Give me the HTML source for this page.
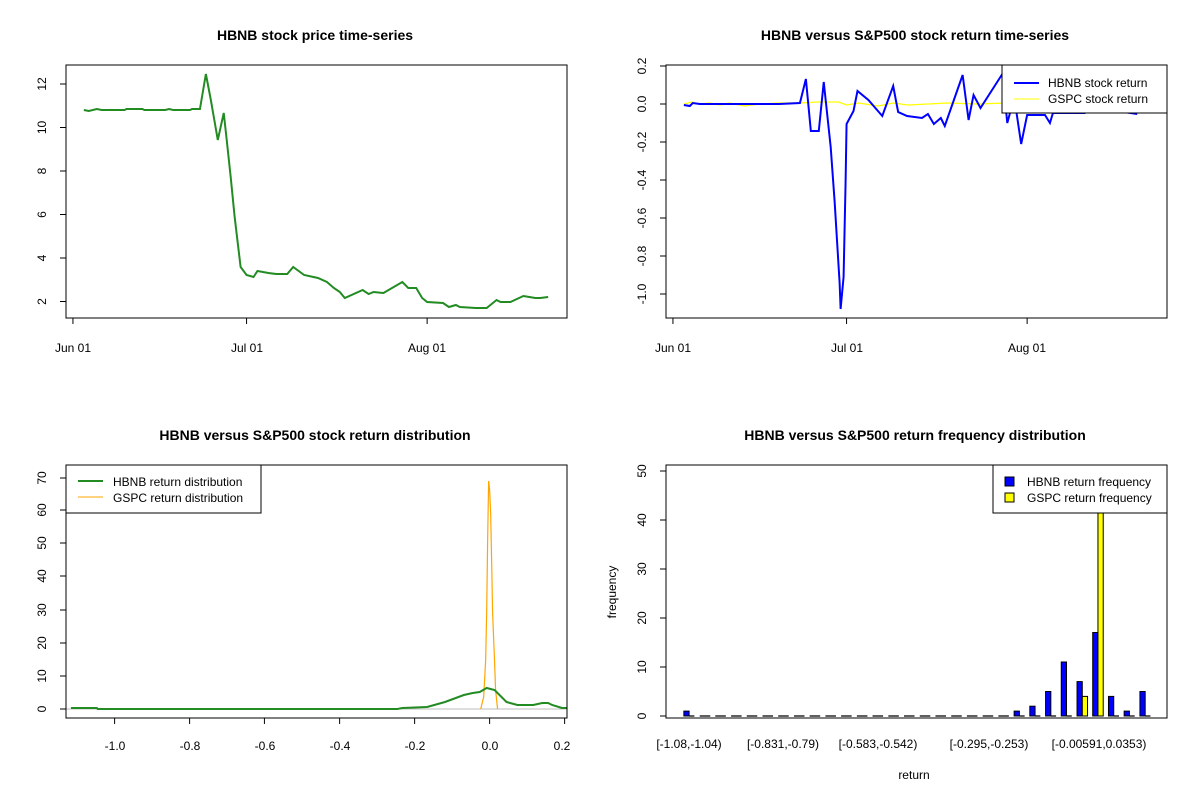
<!DOCTYPE html>
<html><head><meta charset="utf-8"><style>
html,body{margin:0;padding:0;background:#fff}
svg{display:block}
text{font-family:"Liberation Sans",Arial,sans-serif;font-size:12px;fill:#000}
.t{font-weight:bold;font-size:14px}
</style></head><body>
<svg width="1200" height="800" viewBox="0 0 1200 800" xmlns="http://www.w3.org/2000/svg">
<rect width="1200" height="800" fill="#fff"/>

<!-- Panel 1 -->
<text class="t" x="315" y="40" text-anchor="middle">HBNB stock price time-series</text>
<g transform="translate(66,0) scale(0.9921,1) translate(-66,0)">
<polyline fill="none" stroke="#228B22" stroke-width="2" points="84,110 89,111 97,109 102,110 125,110 127,109 143,109 145,110 166,110 170,109 174,110 191,110 193,109 201,109 207,74 212,100 219,140 225,113 228,140 232,177 236,217 242,267 248,275 255,277 259,271 270,273 278,274 289,274 295,267 306,275 320,278 329,282 336,288 342,292 347,298 365,290 371,294 376,292 386,293 405,282 411,288 419,288 425,298 430,302 446,303 452,307 459,305 463,307 479,308 490,308 500,300 504,302 514,302 527,296 533,297 539,298 544,298 552,297"/>
<g stroke="#000">
<line x1="73" y1="318" x2="73" y2="324"/><line x1="248" y1="318" x2="248" y2="324"/><line x1="430" y1="318" x2="430" y2="324"/>
</g>
</g>
<rect x="66" y="65" width="501" height="253" fill="none" stroke="#000"/>
<g stroke="#000">
<line x1="60" y1="84" x2="66" y2="84"/><line x1="60" y1="127.5" x2="66" y2="127.5"/><line x1="60" y1="171" x2="66" y2="171"/><line x1="60" y1="214.5" x2="66" y2="214.5"/><line x1="60" y1="258" x2="66" y2="258"/><line x1="60" y1="301.5" x2="66" y2="301.5"/>
</g>
<g text-anchor="middle">
<text transform="translate(46,84) rotate(-90)">12</text>
<text transform="translate(46,127.5) rotate(-90)">10</text>
<text transform="translate(46,171) rotate(-90)">8</text>
<text transform="translate(46,214.5) rotate(-90)">6</text>
<text transform="translate(46,258) rotate(-90)">4</text>
<text transform="translate(46,301.5) rotate(-90)">2</text>
<text x="73" y="352">Jun 01</text><text x="247" y="352">Jul 01</text><text x="427" y="352">Aug 01</text>
</g>

<!-- Panel 2 -->
<text class="t" x="915" y="40" text-anchor="middle">HBNB versus S&amp;P500 stock return time-series</text>
<g transform="translate(666,0) scale(0.9921,1) translate(-666,0)">
<polyline fill="none" stroke="#FFFF00" stroke-width="1.3" points="684,104 692,102 700,104 710,103 720,105 730,103 745,106 760,104 780,103 800,103 820,102 840,102 848,105 860,103 880,106 895,103 910,105 930,104 950,103 980,104 1010,103 1050,104 1100,104 1160,104"/>
<polyline fill="none" stroke="#0000FF" stroke-width="2" points="684,105 690,106 693,103 700,104 720,104 740,104 760,104 780,104 801,103 807,79 812,131 820,131 825,82 832,147 836,202 841,283 842,309 845,277 847,183 848,124 855,111 859,91 870,100 884,116 895,86 900,112 909,116 924,118 930,114 936,124 943,118 947,126 965,75 971,120 976,95 983,108 1005,74 1010,123 1013,112 1018,104 1024,144 1030,115 1048,115 1053,123 1056,113 1088,113 1100,108 1141,114"/>
<g stroke="#000">
<line x1="673" y1="318" x2="673" y2="324"/><line x1="848" y1="318" x2="848" y2="324"/><line x1="1030" y1="318" x2="1030" y2="324"/>
</g>
</g>
<rect x="666" y="65" width="501" height="253" fill="none" stroke="#000"/>
<rect x="1002" y="65" width="165" height="48" fill="#fff" stroke="#000"/>
<line x1="1014" y1="83" x2="1039" y2="83" stroke="#0000FF" stroke-width="2"/>
<line x1="1014" y1="99" x2="1039" y2="99" stroke="#FFFF00" stroke-width="1"/>
<text x="1048" y="87">HBNB stock return</text>
<text x="1048" y="103">GSPC stock return</text>
<g stroke="#000">
<line x1="660" y1="66" x2="666" y2="66"/><line x1="660" y1="104" x2="666" y2="104"/><line x1="660" y1="142" x2="666" y2="142"/><line x1="660" y1="180" x2="666" y2="180"/><line x1="660" y1="218" x2="666" y2="218"/><line x1="660" y1="256" x2="666" y2="256"/><line x1="660" y1="294" x2="666" y2="294"/>
</g>
<g text-anchor="middle">
<text transform="translate(646,66) rotate(-90)">0.2</text>
<text transform="translate(646,104) rotate(-90)">0.0</text>
<text transform="translate(646,142) rotate(-90)">-0.2</text>
<text transform="translate(646,180) rotate(-90)">-0.4</text>
<text transform="translate(646,218) rotate(-90)">-0.6</text>
<text transform="translate(646,256) rotate(-90)">-0.8</text>
<text transform="translate(646,294) rotate(-90)">-1.0</text>
<text x="673" y="352">Jun 01</text><text x="847" y="352">Jul 01</text><text x="1027" y="352">Aug 01</text>
</g>

<!-- Panel 3 -->
<text class="t" x="315" y="440" text-anchor="middle">HBNB versus S&amp;P500 stock return distribution</text>
<g transform="translate(66,0) scale(0.9921,1) translate(-66,0)">
<line x1="66" y1="709" x2="571" y2="709" stroke="#BEBEBE" stroke-width="1"/>
<polyline fill="none" stroke="#FFA500" stroke-width="1.2" points="484,709 487,697 489,660 490,613 491,540 492,481 493,490 494,512 495,560 496,613 498,662 499,690 501,709"/>
<polyline fill="none" stroke="#228B22" stroke-width="2" points="71,708 97,708 98,709 400,709 405,708 430,707 448,702 467,695 476,693 483,692 490,688 498,690 504,696 510,702 521,705 537,705 546,703 552,703 556,705 566,708 571,708"/>
<g stroke="#000">
<line x1="115" y1="718" x2="115" y2="724"/><line x1="190.6" y1="718" x2="190.6" y2="724"/><line x1="266" y1="718" x2="266" y2="724"/><line x1="341.8" y1="718" x2="341.8" y2="724"/><line x1="417.4" y1="718" x2="417.4" y2="724"/><line x1="493" y1="718" x2="493" y2="724"/><line x1="568.6" y1="718" x2="568.6" y2="724"/>
</g>
</g>
<rect x="66" y="465" width="501" height="253" fill="none" stroke="#000"/>
<rect x="66" y="465" width="195" height="48" fill="#fff" stroke="#000"/>
<line x1="78" y1="481" x2="103" y2="481" stroke="#228B22" stroke-width="2"/>
<line x1="78" y1="497" x2="103" y2="497" stroke="#FFA500" stroke-width="1"/>
<text x="113" y="486">HBNB return distribution</text>
<text x="113" y="502">GSPC return distribution</text>
<g stroke="#000">
<line x1="60" y1="709" x2="66" y2="709"/><line x1="60" y1="676" x2="66" y2="676"/><line x1="60" y1="643" x2="66" y2="643"/><line x1="60" y1="610" x2="66" y2="610"/><line x1="60" y1="576" x2="66" y2="576"/><line x1="60" y1="543" x2="66" y2="543"/><line x1="60" y1="510" x2="66" y2="510"/><line x1="60" y1="478" x2="66" y2="478"/>
</g>
<g text-anchor="middle">
<text transform="translate(46,709) rotate(-90)">0</text>
<text transform="translate(46,676) rotate(-90)">10</text>
<text transform="translate(46,643) rotate(-90)">20</text>
<text transform="translate(46,610) rotate(-90)">30</text>
<text transform="translate(46,576) rotate(-90)">40</text>
<text transform="translate(46,543) rotate(-90)">50</text>
<text transform="translate(46,510) rotate(-90)">60</text>
<text transform="translate(46,478) rotate(-90)">70</text>
<text x="115" y="750">-1.0</text><text x="190" y="750">-0.8</text><text x="265" y="750">-0.6</text><text x="340" y="750">-0.4</text><text x="415" y="750">-0.2</text><text x="490" y="750">0.0</text><text x="562" y="750">0.2</text>
</g>

<!-- Panel 4 -->
<text class="t" x="915" y="440" text-anchor="middle">HBNB versus S&amp;P500 return frequency distribution</text>
<g transform="translate(666,0) scale(0.9921,1) translate(-666,0)">
<g stroke="#000" stroke-width="1">
<rect x="684" y="711.1" width="5.3" height="4.9" fill="#0000FF"/>
<rect x="1016.9" y="711.1" width="5.3" height="4.9" fill="#0000FF"/>
<rect x="1032.7" y="706.2" width="5.3" height="9.8" fill="#0000FF"/>
<rect x="1048.6" y="691.5" width="5.3" height="24.5" fill="#0000FF"/>
<rect x="1064.4" y="662" width="5.3" height="54" fill="#0000FF"/>
<rect x="1080.3" y="681.6" width="5.3" height="34.4" fill="#0000FF"/>
<rect x="1085.6" y="696.4" width="5.3" height="19.6" fill="#FFFF00"/>
<rect x="1096.1" y="632.5" width="5.3" height="83.5" fill="#0000FF"/>
<rect x="1101.4" y="470" width="5.3" height="246" fill="#FFFF00"/>
<rect x="1112" y="696.4" width="5.3" height="19.6" fill="#0000FF"/>
<rect x="1127.8" y="711.1" width="5.3" height="4.9" fill="#0000FF"/>
<rect x="1143.7" y="691.5" width="5.3" height="24.5" fill="#0000FF"/>
</g>
<path stroke="#000" stroke-width="1.2" d="M689.3 716h5.3 M700 716h10.6 M715.7 716h10.6 M731.6 716h10.6 M747.4 716h10.6 M763.3 716h10.6 M779.1 716h10.6 M795 716h10.6 M810.8 716h10.6 M826.7 716h10.6 M842.5 716h10.6 M858.4 716h10.6 M874.2 716h10.6 M890.1 716h10.6 M905.9 716h10.6 M921.8 716h10.6 M937.6 716h10.6 M953.5 716h10.6 M969.3 716h10.6 M985.2 716h10.6 M1001 716h10.6 M1022.2 716h5.3 M1038 716h5.3 M1053.9 716h5.3 M1069.7 716h5.3 M1117.3 716h5.3 M1133.1 716h5.3 M1149 716h5.3"/>
</g>
<rect x="666" y="465" width="501" height="253" fill="none" stroke="#000"/>
<rect x="993" y="465" width="174" height="48" fill="#fff" stroke="#000"/>
<rect x="1005" y="477" width="9" height="9" fill="#0000FF" stroke="#000"/>
<rect x="1005" y="493" width="9" height="9" fill="#FFFF00" stroke="#000"/>
<text x="1027" y="486">HBNB return frequency</text>
<text x="1027" y="502">GSPC return frequency</text>
<g stroke="#000">
<line x1="660" y1="716" x2="666" y2="716"/><line x1="660" y1="667" x2="666" y2="667"/><line x1="660" y1="618" x2="666" y2="618"/><line x1="660" y1="569" x2="666" y2="569"/><line x1="660" y1="520" x2="666" y2="520"/><line x1="660" y1="471" x2="666" y2="471"/>
</g>
<g text-anchor="middle">
<text transform="translate(646,716) rotate(-90)">0</text>
<text transform="translate(646,667) rotate(-90)">10</text>
<text transform="translate(646,618) rotate(-90)">20</text>
<text transform="translate(646,569) rotate(-90)">30</text>
<text transform="translate(646,520) rotate(-90)">40</text>
<text transform="translate(646,471) rotate(-90)">50</text>
<text x="689" y="748">[-1.08,-1.04)</text>
<text x="783" y="748">[-0.831,-0.79)</text>
<text x="878" y="748">[-0.583,-0.542)</text>
<text x="989" y="748">[-0.295,-0.253)</text>
<text x="1099" y="748">[-0.00591,0.0353)</text>
<text x="914" y="779">return</text>
<text transform="translate(616,592) rotate(-90)">frequency</text>
</g>
</svg>
</body></html>
